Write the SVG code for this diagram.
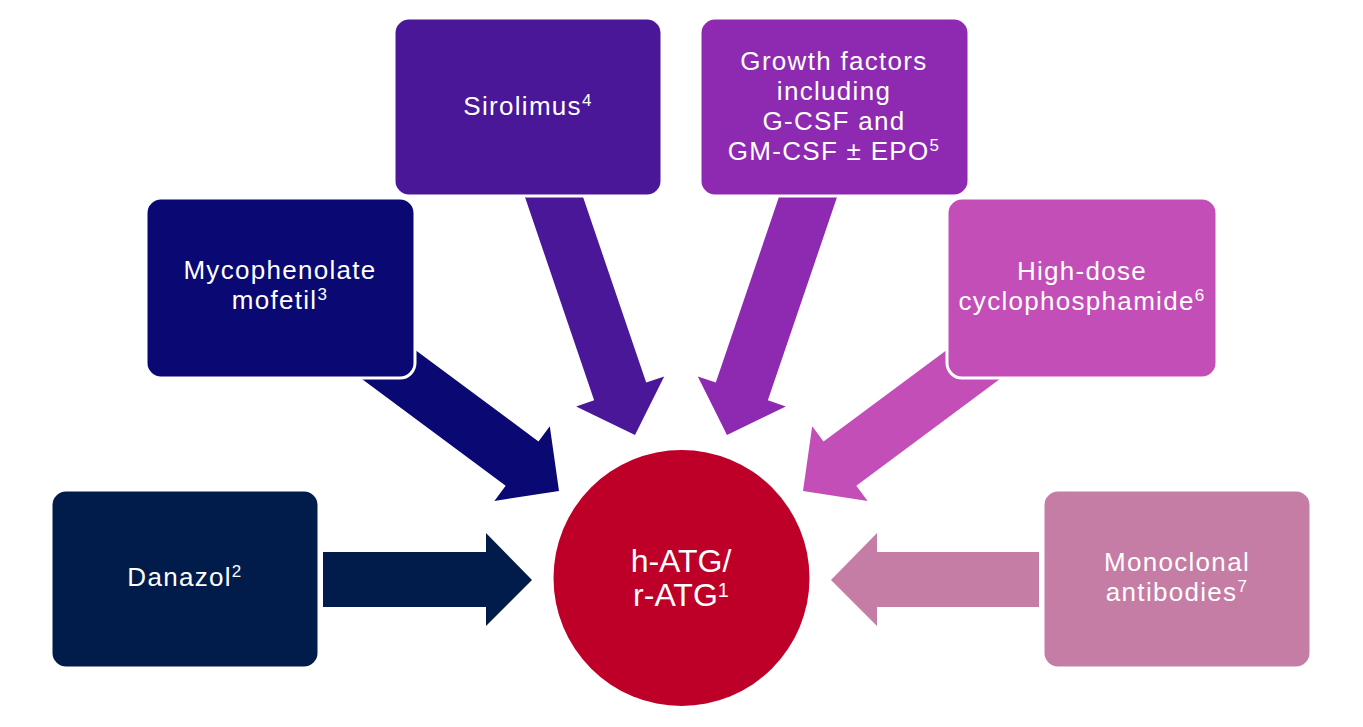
<svg xmlns="http://www.w3.org/2000/svg" width="1363" height="727" viewBox="0 0 1363 727">
<style>
.box{stroke:#FFFFFF;stroke-width:3}
.t{font-family:"Liberation Sans",Arial,sans-serif;font-size:26px;fill:#FFFFFF;text-anchor:middle;letter-spacing:1.3px}
.c{font-family:"Liberation Sans",Arial,sans-serif;font-size:32px;fill:#FFFFFF;text-anchor:middle}
.s{font-size:17px}
.cs{font-size:20px}
</style>
<defs>
<path id="arrL" d="M0,0 L-46,-46.5 L-46,-27.5 L-280,-27.5 L-280,27.5 L-46,27.5 L-46,46.5 Z"/>
</defs>
<g id="connectors">
<path d="M323,552 L486,552 L486,533 L532,580 L486,626 L486,607 L323,607 Z" fill="#011C4A"/>
<path d="M1039,552 L877,552 L877,533 L831,580 L877,626 L877,607 L1039,607 Z" fill="#C57CA5"/>
<use href="#arrL" fill="#0A0872" transform="translate(559,491) rotate(36.6)"/>
<use href="#arrL" fill="#C44EB8" transform="translate(803,491) rotate(143.4)"/>
<use href="#arrL" fill="#4A1798" transform="translate(635,435) rotate(71.2)"/>
<use href="#arrL" fill="#8E29B2" transform="translate(727,435) rotate(108.8)"/>
</g>
<g id="danazol">
<rect class="box" x="51" y="490" width="268" height="178" rx="15" fill="#011C4A"/>
<text class="t" x="185" y="586">Danazol<tspan class="s" dy="-9">2</tspan></text>
</g>
<g id="mycophenolate">
<rect class="box" x="146" y="198" width="269" height="180" rx="15" fill="#0A0872"/>
<text class="t" x="280" y="279">Mycophenolate</text>
<text class="t" x="280" y="309">mofetil<tspan class="s" dy="-9">3</tspan></text>
</g>
<g id="sirolimus">
<rect class="box" x="394" y="18" width="268" height="178" rx="15" fill="#4A1798"/>
<text class="t" x="528" y="115">Sirolimus<tspan class="s" dy="-9">4</tspan></text>
</g>
<g id="growth-factors">
<rect class="box" x="700" y="18" width="269" height="178" rx="15" fill="#8E29B2"/>
<text class="t" x="834" y="70">Growth factors</text>
<text class="t" x="834" y="100">including</text>
<text class="t" x="834" y="130">G-CSF and</text>
<text class="t" x="834" y="160">GM-CSF ± EPO<tspan class="s" dy="-9">5</tspan></text>
</g>
<g id="high-dose">
<rect class="box" x="947" y="198" width="270" height="180" rx="15" fill="#C44EB8"/>
<text class="t" x="1082" y="280">High-dose</text>
<text class="t" x="1082" y="310">cyclophosphamide<tspan class="s" dy="-9">6</tspan></text>
</g>
<g id="monoclonal">
<rect class="box" x="1043" y="490" width="268" height="178" rx="15" fill="#C57CA5"/>
<text class="t" x="1177" y="571">Monoclonal</text>
<text class="t" x="1177" y="601">antibodies<tspan class="s" dy="-9">7</tspan></text>
</g>
<g id="atg">
<circle cx="681.5" cy="578" r="128" fill="#BE0028"/>
<text class="c" x="681" y="572">h-ATG/</text>
<text class="c" x="681" y="606">r-ATG<tspan class="cs" dy="-9">1</tspan></text>
</g>
</svg>
